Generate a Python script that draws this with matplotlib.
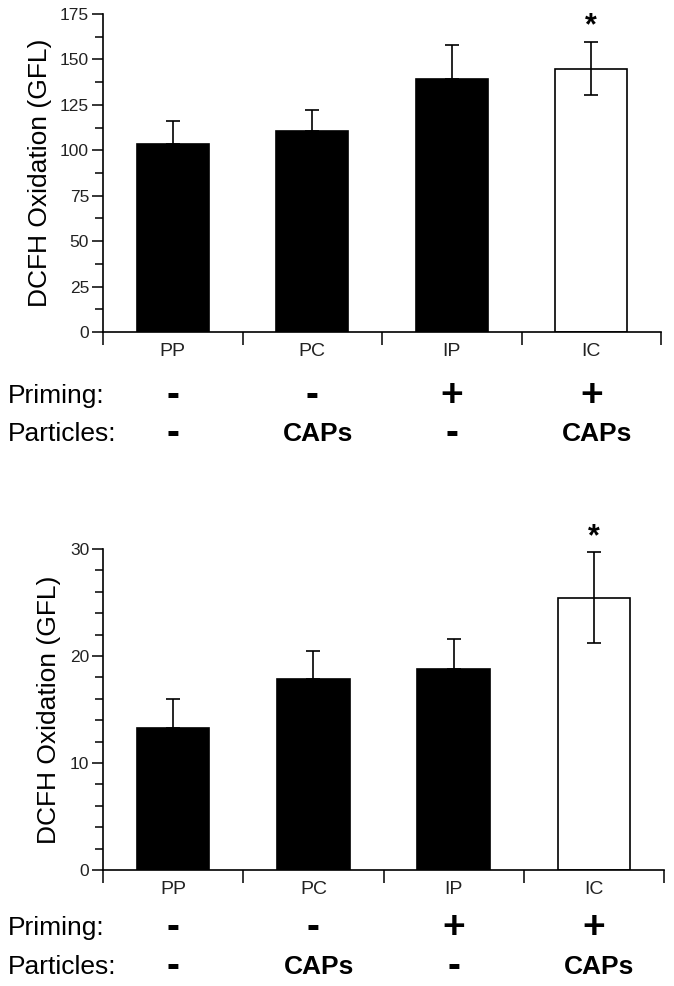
import matplotlib
matplotlib.use("Agg")
import matplotlib.pyplot as plt
import matplotlib.transforms as mtransforms
from matplotlib.ticker import MultipleLocator, FixedLocator, NullFormatter

plt.rcParams['font.family'] = ['Liberation Sans', 'DejaVu Sans']

categories = ["PP", "PC", "IP", "IC"]
priming = ["-", "-", "+", "+"]
particles = ["-", "CAPs", "-", "CAPs"]
colors = ["black", "black", "black", "white"]

top_values = [103.5, 110.5, 139.0, 145.0]
top_errors = [12.5, 11.5, 19.0, 14.5]
top_ticks = [0, 25, 50, 75, 100, 125, 150, 175]

bot_values = [13.25, 17.85, 18.8, 25.45]
bot_errors = [2.75, 2.6, 2.8, 4.25]
bot_ticks = [0, 10, 20, 30]

W, H = 674, 986
fig = plt.figure(figsize=(W / 100, H / 100), dpi=100)

def px_axes(left, top, right, bottom):
    return fig.add_axes([left / W, 1 - bottom / H, (right - left) / W, (bottom - top) / H])

def draw(ax, values, errors, ticks, minor, ymax, star_px, prim_px, part_px):
    x = list(range(len(categories)))
    ax.bar(x, values, width=0.516, color=colors, edgecolor="black", linewidth=1.2, zorder=2)
    for xi, v, e, c in zip(x, values, errors, colors):
        lower = 0 if c != "white" else e
        ax.errorbar([xi], [v], yerr=[[lower], [e]], fmt="none", ecolor="black",
                    elinewidth=1.2, capsize=5, capthick=1.2, zorder=3)
    ax.set_xlim(-0.5, len(categories) - 0.5)
    ax.set_ylim(0, ymax)
    for s in ["top", "right"]:
        ax.spines[s].set_visible(False)
    for s in ["left", "bottom"]:
        ax.spines[s].set_linewidth(1.2)
    ax.set_yticks(ticks)
    ax.yaxis.set_minor_locator(MultipleLocator(minor))
    ax.tick_params(axis="y", which="major", length=8, width=1.1, labelsize=12.5,
                   labelcolor="#222222", pad=2)
    ax.tick_params(axis="y", which="minor", length=6, width=1.1)
    ax.xaxis.set_major_locator(FixedLocator([i - 0.5 for i in range(len(categories) + 1)]))
    ax.xaxis.set_major_formatter(NullFormatter())
    ax.xaxis.set_minor_locator(FixedLocator(x))
    ax.set_xticklabels(categories, minor=True)
    ax.tick_params(axis="x", which="major", length=9, width=1.1)
    ax.tick_params(axis="x", which="minor", length=0, labelsize=14, pad=8,
                   labelcolor="#222222")
    ax.set_ylabel("DCFH Oxidation (GFL)", fontsize=19, labelpad=6)
    trans = mtransforms.blended_transform_factory(ax.transData, fig.transFigure)
    ax.text(len(categories) - 1, 1 - star_px / H, "*", transform=trans, ha="center",
            va="center", fontsize=22, fontweight="bold")
    fig.text(8 / W, 1 - prim_px / H, "Priming:", ha="left", va="center", fontsize=19)
    fig.text(8 / W, 1 - part_px / H, "Particles:", ha="left", va="center", fontsize=19)
    for xi, p, q in zip(x, priming, particles):
        ax.text(xi, 1 - prim_px / H, p, transform=trans, ha="center", va="center",
                fontsize=28, fontweight="bold")
        ax.text(xi + (0.04 if q != "-" else 0), 1 - part_px / H, q, transform=trans,
                ha="center", va="center",
                fontsize=28 if q == "-" else 19, fontweight="bold")

ax1 = px_axes(103, 14, 661, 332)
draw(ax1, top_values, top_errors, top_ticks, 12.5, 175, 26, 396, 434)

ax2 = px_axes(103, 549, 664, 870)
draw(ax2, bot_values, bot_errors, bot_ticks, 2, 30, 537, 928, 967)

fig.savefig("out.png", dpi=100)
